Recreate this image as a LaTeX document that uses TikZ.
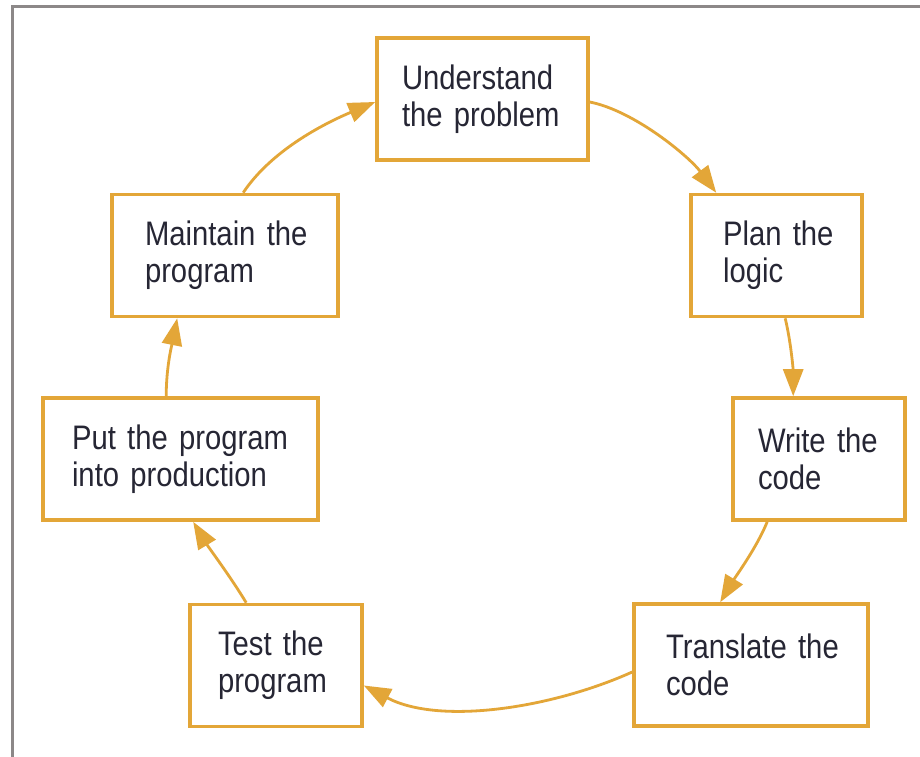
\documentclass[tikz,border=0pt]{standalone}
\usepackage{fontspec}
\setmainfont[FakeStretch=0.86,WordSpace=0.8]{Liberation Sans}
\usetikzlibrary{arrows.meta,calc}
\definecolor{gold}{RGB}{227,166,56}
\definecolor{ink}{RGB}{38,38,52}
\definecolor{framegray}{RGB}{140,136,136}
\tikzset{
  stepbox/.style={draw=gold, line width=3.6pt, fill=white, align=left,
    minimum height=122pt, inner ysep=0pt, text=ink,
    font=\fontsize{34}{37}\selectfont},
  flow/.style={draw=gold, line width=2.8pt,
    -{Triangle[length=27pt,width=20pt]}},
}
\begin{document}
\begin{tikzpicture}[x=1pt,y=-1pt]
\useasboundingbox (0,0) rectangle (920,756);
\fill[white] (0,0) rectangle (920,756);
\draw[framegray, line width=3.4pt] (12.5,780) -- (12.5,6.5) -- (940,6.5);

\node[stepbox, text width=161pt, inner xsep=25pt] (U) at (482.5,99) {Understand\\the~problem};
\node[stepbox, text width=107pt, inner xsep=32pt] (P) at (776.5,255.5) {Plan~the\\logic};
\node[stepbox, text width=122pt, inner xsep=25pt] (W) at (819,459) {Write~the\\code};
\node[stepbox, text width=170pt, inner xsep=32pt] (T) at (751,665) {Translate~the\\code};
\node[stepbox, text width=116pt, inner xsep=28pt] (E) at (276,665.5) {Test~the\\program};
\node[stepbox, text width=217pt, inner xsep=29pt] (R) at (180.5,459) {Put~the~program\\into~production};
\node[stepbox, text width=160pt, inner xsep=33pt] (M) at (225,255.5) {Maintain~the\\program};

% connectors
\draw[flow] ($(U.east)+(0,3)$) .. controls +(45,9) and +(-27,-36) .. ($(P.north west)+(27,0)$);
\draw[flow] ($(P.south west)+(96,0)$) .. controls +(6,25) and +(0,-25) .. ($(W.north west)+(62,0)$);
\draw[flow] ($(W.south west)+(36,0)$) .. controls +(-10,25) and +(15,-25) .. ($(T.north west)+(88,0)$);
\draw[flow] ($(T.west)+(0,7)$) .. controls +(-80,36) and +(76,40) .. ($(E.east)+(0,20)$);
\draw[flow] ($(E.north west)+(58,0)$) .. controls +(-15,-25) and +(15,25) .. ($(R.south west)+(152,0)$);
\draw[flow] ($(R.north west)+(125,0)$) .. controls +(0,-30) and +(-5,25) .. ($(M.south west)+(67,0)$);
\draw[flow] ($(M.north west)+(133,0)$) .. controls +(30,-45) and +(-45,19) .. ($(U.west)+(0,3)$);
\end{tikzpicture}
\end{document}
